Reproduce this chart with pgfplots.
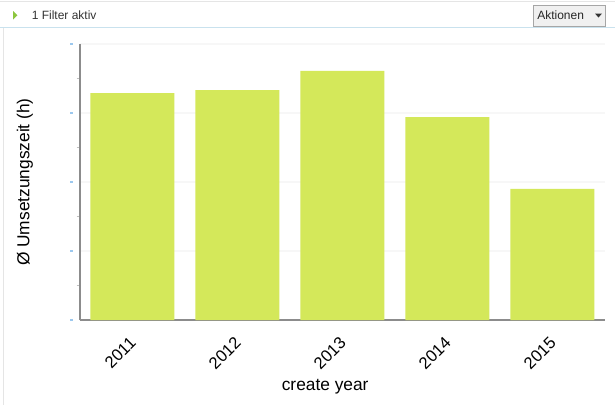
\documentclass[border=0pt]{standalone}
\usepackage{pgfplots}
\pgfplotsset{compat=1.18}
\usepackage{fontspec}
\setmainfont{Liberation Sans}
\definecolor{barcol}{HTML}{D4E85A}
\definecolor{hdrline}{HTML}{C9E2EE}
\definecolor{tickblue}{HTML}{9CC8EE}
\definecolor{trigreen}{HTML}{8CC63E}
\definecolor{axgray}{HTML}{8C8C8C}
\begin{document}
\begin{tikzpicture}
\begin{scope}[x=0.75pt,y=-0.75pt]
\path[use as bounding box,fill=white] (0,0) rectangle (615,405);
% header
\draw[gray!20,line width=0.75pt] (0,1) -- (615,1);
\draw[hdrline,line width=0.75pt] (0,27.5) -- (615,27.5);
\draw[gray!20,line width=0.75pt] (3,28) -- (3,405);
\fill[trigreen] (13,11) -- (13,19.5) -- (17.5,15.25) -- cycle;
\node[anchor=west,inner sep=0pt,text=black!80,font=\fontsize{9}{10}\selectfont] at (31.5,15.5) {1 Filter aktiv};
\draw[draw=gray!70,fill=gray!12,line width=0.75pt] (533,5) rectangle (605,26);
\node[anchor=west,inner sep=0pt,text=black!85,font=\fontsize{9}{10}\selectfont] at (537,15.5) {Aktionen};
\fill[black!80] (595,13.5) -- (602,13.5) -- (598.5,17.5) -- cycle;
\end{scope}
\begin{axis}[
  at={(60pt,-240pt)}, anchor=south west,
  scale only axis,
  width=393.75pt, height=207pt,
  xmin=-0.5, xmax=4.5, ymin=0, ymax=4,
  axis x line*=bottom, axis y line*=left,
  axis line style={axgray,line width=0.9pt},
  xtick={0,1,2,3,4},
  xticklabels={2011,2012,2013,2014,2015},
  x tick style={draw=none},
  xticklabel style={rotate=45,anchor=north east,xshift=-5.5pt,yshift=-1.5pt,font=\fontsize{12.5}{14}\selectfont},
  ytick={0,1,2,3,4},
  yticklabels={},
  minor y tick num=1,
  tick align=outside,
  major tick length=2pt,
  minor tick length=2.5pt,
  every major tick/.append style={tickblue,line width=0.9pt,xshift=-5.2pt},
  every minor tick/.append style={gray!50,line width=0.6pt},
  ymajorgrids,
  major grid style={gray!6,line width=0.8pt},
  xlabel={create year},
  ylabel={Ø Umsetzungszeit (h)},
  label style={font=\fontsize{13}{15}\selectfont},
  xlabel style={at={(axis description cs:0.467,0)},anchor=center,yshift=-50pt},
  ylabel style={at={(axis description cs:-0.105,0.5)},anchor=center},
  clip=false,
]
\addplot[ybar,bar width=0.8,fill=barcol,draw=none] coordinates {
(0,3.29) (1,3.33) (2,3.61) (3,2.94) (4,1.90)};
\end{axis}
\end{tikzpicture}
\end{document}
